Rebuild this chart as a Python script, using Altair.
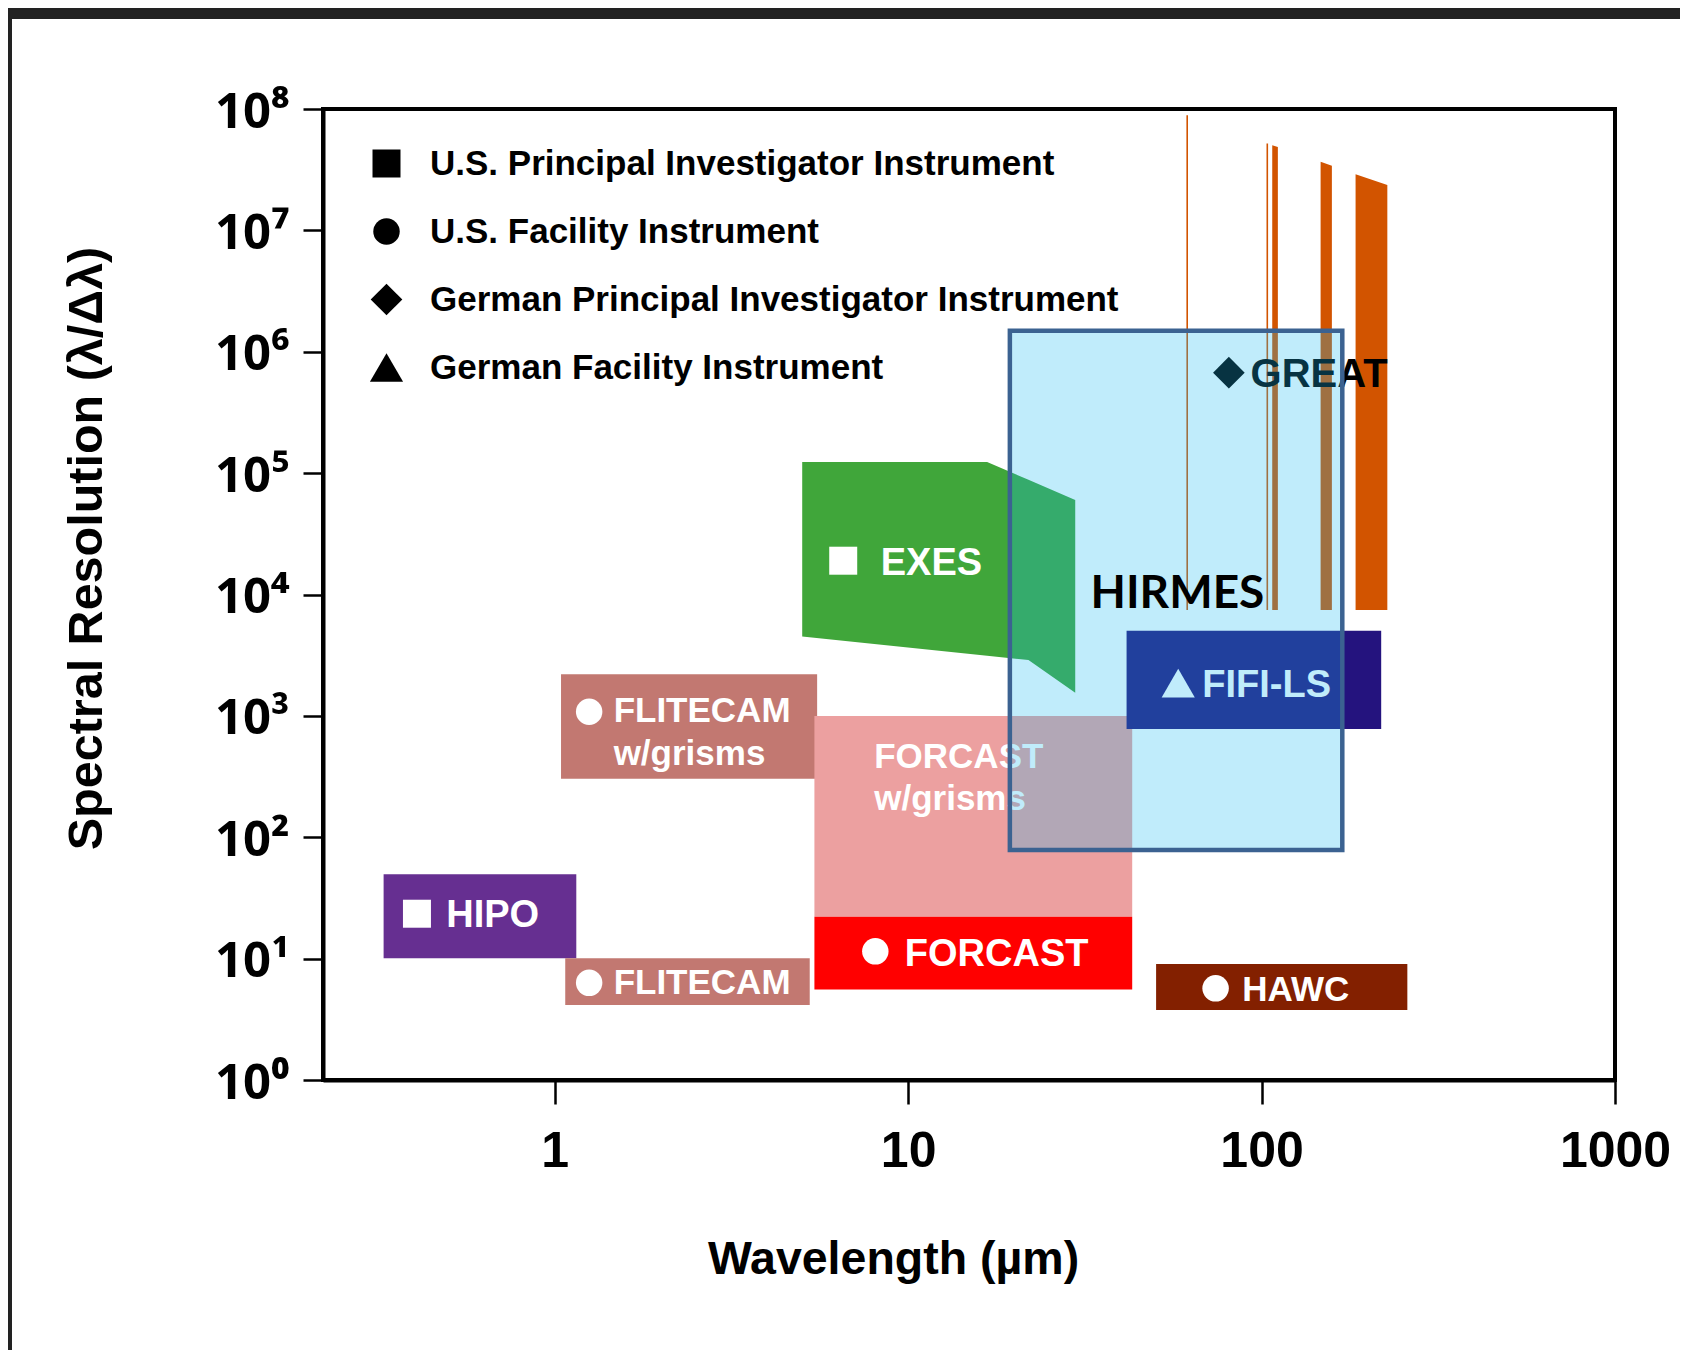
import json
import altair as alt
import pandas as pd

# ---------------- axis ticks ----------------
x_tick_values = [1, 10, 100, 1000]
x_tick_labels = ["1", "10", "100", "1000"]
y_tick_values = [1, 10, 100, 1000, 10000, 100000, 1000000, 10000000, 100000000]
y_tick_labels = ["10⁰", "10¹", "10²", "10³", "10⁴", "10⁵", "10⁶", "10⁷", "10⁸"]

# ---------------- rectangular coverage (wavelength µm, resolution) ----------------
box_names = ["HIPO", "FLITECAM w/grisms", "FLITECAM", "FORCAST w/grisms", "FORCAST", "HAWC", "FIFI-LS"]
box_wl_min = [0.328, 1.042, 1.071, 5.43, 5.43, 50.3, 41.5]
box_wl_max = [1.151, 5.527, 5.267, 43.05, 43.05, 258.5, 218.0]
box_res_min = [10.06, 303, 4.15, 22.1, 5.58, 3.77, 778]
box_res_max = [49.5, 2198, 10.06, 996, 22.1, 9.03, 5024]

# ---------------- EXES outline ----------------
exes_wl = [5.015, 16.73, 21.9, 29.7]
exes_res_top = [123600, 123600, 88100, 60000]
exes_res_bottom = [4517, 3126, 2884, 1553]

# ---------------- GREAT bands ----------------
great_line_wl = [61.6, 103.8]
great_line_res_top = [8.89e7, 5.2e7]
great_band_id = ["1", "1", "2", "2", "3", "3"]
great_band_wl = [107.2, 111.2, 146.9, 158.1, 184.5, 226.9]
great_band_res_top = [5.03e7, 4.87e7, 3.67e7, 3.40e7, 2.90e7, 2.36e7]
great_res_bottom = 7436

# ---------------- HIRMES ----------------
hirmes_wl = [19.4, 169.2]
hirmes_res = [78.5, 1.486e6]

# ---------------- instrument types / markers ----------------
type_names = ["U.S. Principal Investigator Instrument", "U.S. Facility Instrument",
              "German Principal Investigator Instrument", "German Facility Instrument"]
marker_inst = ["EXES", "HIPO", "FLITECAM w/grisms", "FLITECAM", "FORCAST", "HAWC", "FIFI-LS", "GREAT"]
marker_type = [type_names[0], type_names[0], type_names[1], type_names[1],
               type_names[1], type_names[1], type_names[3], type_names[2]]
marker_wl = [6.551, 0.4076, 1.2515, 1.2515, 8.075, 74.12, 58.1, 80.8]
marker_res = [18985, 23.44, 1081, 6.319, 11.48, 5.692, 1863, 6.727e5]

# ---------------- labels ----------------
label_big_text = ["EXES", "HIPO", "FORCAST", "FIFI-LS"]
label_big_wl = [8.365, 0.4933, 9.788, 67.96]
label_big_res = [14530, 18.31, 8.657, 1437]

label_small_text = ["FLITECAM", "w/grisms", "FLITECAM", "FORCAST", "w/grisms", "HAWC"]
label_small_wl = [1.468, 1.468, 1.468, 8.017, 8.017, 88.18]
label_small_res = [884.4, 393.3, 5.080, 371.5, 166.3, 4.499]

great_label_text = ["GREAT"]
great_label_wl = [93.09]
great_label_res = [5.138e5]

hirmes_label_text = ["HIRMES"]
hirmes_label_wl = [32.81]
hirmes_label_res = [7683]

# ---------------- tables ----------------
boxes = pd.DataFrame({"name": box_names, "x0": box_wl_min, "x1": box_wl_max,
                      "y0": box_res_min, "y1": box_res_max})
exes = pd.DataFrame({"wl": exes_wl, "top": exes_res_top, "bot": exes_res_bottom})
glines = pd.DataFrame({"wl": great_line_wl, "top": great_line_res_top,
                       "bot": [great_res_bottom] * len(great_line_wl)})
gbands = pd.DataFrame({"band": great_band_id, "wl": great_band_wl, "top": great_band_res_top,
                       "bot": [great_res_bottom] * len(great_band_wl)})
hirmes = pd.DataFrame({"x0": [hirmes_wl[0]], "x1": [hirmes_wl[1]],
                       "y0": [hirmes_res[0]], "y1": [hirmes_res[1]]})
markers = pd.DataFrame({"inst": marker_inst, "type": marker_type, "wl": marker_wl, "res": marker_res})
lab_big = pd.DataFrame({"t": label_big_text, "wl": label_big_wl, "res": label_big_res})
lab_small = pd.DataFrame({"t": label_small_text, "wl": label_small_wl, "res": label_small_res})
lab_great = pd.DataFrame({"t": great_label_text, "wl": great_label_wl, "res": great_label_res})
lab_hirmes = pd.DataFrame({"t": hirmes_label_text, "wl": hirmes_label_wl, "res": hirmes_label_res})
dummy = pd.DataFrame({"k": [0]})

# ---------------- scales / axes ----------------
xs = alt.Scale(type="log", domain=[0.221, 1000], nice=False)
ys = alt.Scale(type="log", domain=[1, 1e8], nice=False)

x_label_expr = "%s[indexof(%s, datum.value)]" % (json.dumps(x_tick_labels), json.dumps(x_tick_values))
y_label_expr = "%s[indexof(%s, datum.value)]" % (json.dumps(y_tick_labels, ensure_ascii=False),
                                                 json.dumps(y_tick_values))

x_axis = alt.Axis(values=x_tick_values, labelExpr=x_label_expr, title="Wavelength (µm)",
                  grid=False, domainColor="black", domainWidth=4,
                  tickColor="black", tickWidth=2.5, tickSize=24,
                  labelFont="Liberation Sans", labelFontWeight="bold", labelFontSize=50,
                  labelColor="black", labelPadding=22, labelFlush=False, labelOverlap=False,
                  titleFont="Liberation Sans", titleFontWeight="bold", titleFontSize=46.5,
                  titleColor="black", titleX=570, titleY=193, titleAlign="center",
                  titleBaseline="alphabetic")
y_axis = alt.Axis(values=y_tick_values, labelExpr=y_label_expr, title="Spectral Resolution (λ/Δλ)",
                  grid=False, domainColor="black", domainWidth=4,
                  tickColor="black", tickWidth=2.5, tickSize=20,
                  labelFont="Open Sans", labelFontWeight="bold", labelFontSize=49,
                  labelColor="black", labelPadding=14, labelFlush=False, labelOverlap=False,
                  labelBaseline="middle", labelOffset=3,
                  titleFont="Liberation Sans", titleFontWeight="bold", titleFontSize=48.5,
                  titleColor="black", titleAngle=270, titleX=-222, titleY=439,
                  titleAlign="center", titleBaseline="alphabetic")


def X(field):
    return alt.X(field, type="quantitative", scale=xs, axis=x_axis)


def Y(field):
    return alt.Y(field, type="quantitative", scale=ys, axis=y_axis)


box_colors = alt.Scale(domain=box_names,
                       range=["#662f91", "#c27871", "#c27871", "#eca0a0", "#ff0000", "#832000", "#24137e"])

marker_fill = alt.Scale(domain=marker_inst,
                        range=["#ffffff"] * 7 + ["#000000"])

legend = alt.Legend(title=None, orient="none", legendX=46, legendY=37, padding=0,
                    labelFont="Liberation Sans", labelFontWeight="bold", labelFontSize=35,
                    labelColor="black", labelLimit=2000, rowPadding=32, labelOffset=26,
                    symbolFillColor="black", symbolStrokeWidth=0)

# ---------------- layers ----------------
frame_top = alt.Chart(dummy).mark_rect(color="#222222").encode(
    x=alt.value(-330), x2=alt.value(1500), y=alt.value(-120), y2=alt.value(-90))
frame_left = alt.Chart(dummy).mark_rect(color="#222222").encode(
    x=alt.value(-330), x2=alt.value(-311), y=alt.value(-120), y2=alt.value(1400))

box_layer = alt.Chart(boxes).mark_rect().encode(
    x=X("x0"), x2="x1:Q", y=Y("y0"), y2="y1:Q",
    color=alt.Color("name:N", scale=box_colors, legend=None),
)

exes_layer = alt.Chart(exes).mark_area(color="#40a63a", opacity=1).encode(
    x=X("wl"), y=Y("top"), y2="bot:Q",
)

gband_layer = alt.Chart(gbands).mark_area(color="#d25400", opacity=1).encode(
    x=X("wl"), y=Y("top"), y2="bot:Q", detail="band:N",
)

gline_layer = alt.Chart(glines).mark_rule(color="#d25400", strokeWidth=1.6).encode(
    x=X("wl"), y=Y("top"), y2="bot:Q",
)

marker_layer = alt.Chart(markers).mark_point(filled=True, opacity=1, strokeWidth=0).encode(
    x=X("wl"), y=Y("res"),
    shape=alt.Shape("type:N", scale=alt.Scale(domain=type_names,
                                              range=["square", "circle", "diamond", "triangle-up"]),
                    legend=legend),
    size=alt.Size("type:N", scale=alt.Scale(type="ordinal", domain=type_names,
                                            range=[784, 700, 1000, 1100]),
                  legend=legend),
    fill=alt.Fill("inst:N", scale=marker_fill, legend=None),
)


def text_layer(df, size, color, font="Liberation Sans"):
    return alt.Chart(df).mark_text(align="left", baseline="alphabetic", font=font,
                                   fontWeight="bold", fontSize=size, color=color).encode(
        x=X("wl"), y=Y("res"), text="t:N",
    )


big_text = text_layer(lab_big, 38, "white")
small_text = text_layer(lab_small, 35, "white")
great_text = text_layer(lab_great, 40, "black")
hirmes_text = text_layer(lab_hirmes, 46, "black", font="Lato")

hirmes_layer = alt.Chart(hirmes).mark_rect(fill="#18baf0", fillOpacity=0.273,
                                           stroke="#3b6291", strokeWidth=4.5).encode(
    x=X("x0"), x2="x1:Q", y=Y("y0"), y2="y1:Q",
)

chart = alt.layer(
    frame_top, frame_left, box_layer, exes_layer, gband_layer, gline_layer,
    marker_layer, big_text, small_text, great_text, hirmes_layer, hirmes_text,
).properties(
    width=1292, height=971,
    padding={"left": 315, "top": 101, "right": 65, "bottom": 270},
    autosize=alt.AutoSizeParams(type="none"),
    background="white",
).configure_view(stroke="black", strokeWidth=4)

chart.save("out.html", embed_options={"renderer": "svg", "actions": False})
